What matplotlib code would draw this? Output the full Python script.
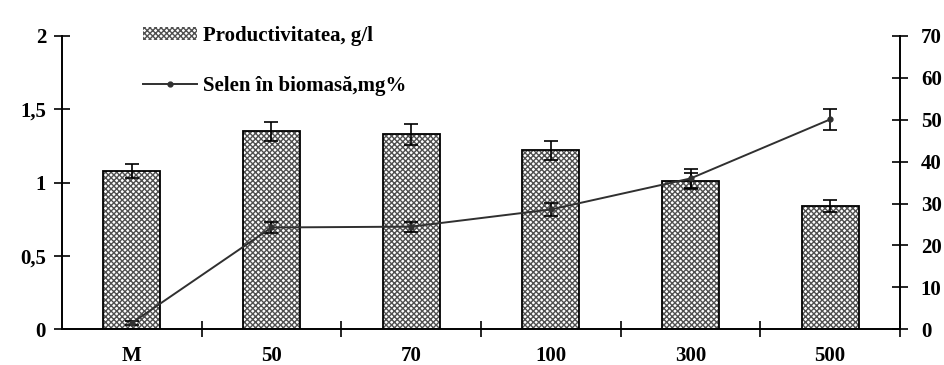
import numpy as np
import matplotlib.pyplot as plt
from matplotlib.lines import Line2D
from matplotlib.patches import Patch

plt.rcParams['font.family'] = ['Liberation Serif', 'DejaVu Serif']
plt.rcParams['font.weight'] = 'bold'
plt.rcParams['hatch.linewidth'] = 1.0

categories = ["M", "50", "70", "100", "300", "500"]
productivity = [1.08, 1.35, 1.33, 1.22, 1.01, 0.84]     # g/l, left axis
productivity_err = [0.05, 0.065, 0.07, 0.065, 0.055, 0.04]
selenium = [1.5, 24.3, 24.5, 28.6, 36.0, 50.1]          # mg%, right axis
selenium_err = [0.4, 1.4, 1.2, 1.5, 2.2, 2.5]

fs = 15
x = np.arange(len(categories))

fig = plt.figure(figsize=(9.45, 3.65), dpi=100)
ax1 = fig.add_axes([0.0656, 0.0978, 0.8868, 0.8036])
ax2 = ax1.twinx()

# hatched bars (hatch drawn in grey), then black outline on top
ax1.bar(x, productivity, width=0.41, color='white', edgecolor='#505050',
        hatch='xxxxxx', linewidth=0, zorder=2)
ax1.bar(x, productivity, width=0.41, fill=False, edgecolor='black',
        linewidth=1.3, zorder=3)
ax1.errorbar(x, productivity, yerr=productivity_err, fmt='none', ecolor='black',
             elinewidth=1.2, capsize=5, capthick=1.2, zorder=4)

ax2.errorbar(x, selenium, yerr=selenium_err, color='#303030', lw=1.4,
             marker='o', ms=3.5, ecolor='black', elinewidth=1.2,
             capsize=5, capthick=1.2, zorder=5)

ax1.set_xlim(-0.5, 5.5)
ax1.set_ylim(0, 2)
ax2.set_ylim(0, 70)

ax1.set_xticks(x)
ax1.set_xticklabels(categories, fontsize=fs, fontweight='bold')
ax1.set_xticks(np.arange(0.5, 6.0, 1.0), minor=True)
ax1.tick_params(axis='x', which='major', length=0, pad=12)
ax1.tick_params(axis='x', which='minor', direction='inout', length=12, width=1.2)

ax1.set_yticks([0, 0.5, 1, 1.5, 2])
ax1.set_yticklabels(["0", "0,5", "1", "1,5", "2"], fontsize=fs, fontweight='bold')
ax1.tick_params(axis='y', direction='inout', length=11, width=1.2, pad=6)

ax2.set_yticks(np.arange(0, 71, 10))
ax2.set_yticklabels([str(v) for v in range(0, 71, 10)], fontsize=fs, fontweight='bold')
ax2.tick_params(axis='y', direction='inout', length=12, width=1.2, pad=9)

for ax in (ax1, ax2):
    ax.spines['top'].set_visible(False)
    for s in ('left', 'right', 'bottom'):
        ax.spines[s].set_linewidth(1.2)
ax1.set_zorder(ax2.get_zorder() - 1)
ax2.patch.set_visible(False)

handles = [Patch(facecolor='white', edgecolor='#505050', hatch='xxxxxx', linewidth=0),
           Line2D([0], [0], color='#303030', lw=1.4, marker='o', ms=3.5)]
labels = ["Productivitatea, g/l", "Selen în biomasă,mg%"]
fig.legend(handles, labels, loc='upper left', bbox_to_anchor=(0.14, 0.957),
           frameon=False, handlelength=2.6, handleheight=0.6,
           handletextpad=0.3, labelspacing=1.45, borderpad=0,
           prop={'weight': 'bold', 'size': fs})

fig.savefig('out.png', dpi=100)
